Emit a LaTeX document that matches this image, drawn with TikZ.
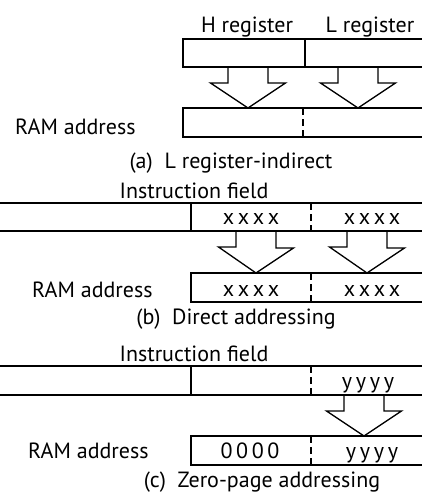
\documentclass[tikz,border=0pt]{standalone}
\usepackage{fontspec}
\setmainfont{PT Sans}
\usetikzlibrary{calc}

\tikzset{
    lbl/.style={font=\fontsize{22}{26}\selectfont, inner sep=0pt, anchor=base},
    fld/.style={line width=1.3pt},
    half/.style={line width=1.3pt, dash pattern=on 7pt off 4pt},
    blockarr/.style={line width=1.3pt, line join=miter},
}
% hollow down arrow: shaft top (#1), tip (#2)
\newcommand{\blockarrow}[2]{%
    \draw[blockarr] (#1) ++(-20,0) -- ++(0,16) -- ++(-17.5,0) -- (#2)
        -- ++(37.5,-25) -- ++(-17.5,0) -- ++(0,-16);
}

\begin{document}
\begin{tikzpicture}[x=1pt, y=-1pt]
    \clip (0,0) rectangle (422,493);

    % (a) L register-indirect
    \node[lbl] (hreg) at (247,32) {H register};
    \node[lbl] (lreg) at (370,32) {L register};
    \draw[fld] (430,39) -- (183,39) -- (183,67) -- (430,67);
    \draw[fld] (305,39) -- (305,67);
    \coordinate (ha) at (248,67);  \coordinate (hat) at (248,108);
    \coordinate (la) at (358,67);  \coordinate (lat) at (358,108);
    \blockarrow{ha}{hat}
    \blockarrow{la}{lat}
    \node[lbl, anchor=base west] (rama) at (15,134) {RAM address};
    \draw[fld] (430,108) -- (183,108) -- (183,137) -- (430,137);
    \draw[half] (303,108) -- (303,137);
    \node[lbl] (capa) at (231,168) {(a)\ \ L register-indirect};

    % (b) Direct addressing
    \node[lbl] (insb) at (194,198) {Instruction field};
    \draw[fld] (-5,203) -- (430,203);
    \draw[fld] (-5,231) -- (430,231);
    \draw[fld] (191,203) -- (191,231);
    \draw[half] (311,203) -- (311,231);
    \node[lbl] (xhb) at (251,224) {x\,x\,x\,x};
    \node[lbl] (xlb) at (372,224) {x\,x\,x\,x};
    \coordinate (hb) at (256,231);  \coordinate (hbt) at (256,273);
    \coordinate (lb) at (367,231);  \coordinate (lbt) at (367,273);
    \blockarrow{hb}{hbt}
    \blockarrow{lb}{lbt}
    \node[lbl, anchor=base west] (ramb) at (32,297) {RAM address};
    \draw[fld] (430,273) -- (191,273) -- (191,302) -- (430,302);
    \draw[half] (311,273) -- (311,302);
    \node[lbl] (xhr) at (251,296) {x\,x\,x\,x};
    \node[lbl] (xlr) at (372,296) {x\,x\,x\,x};
    \node[lbl] (capb) at (236,324) {(b)\ \ Direct addressing};

    % (c) Zero-page addressing
    \node[lbl] (insc) at (194,361) {Instruction field};
    \draw[fld] (-5,366) -- (430,366);
    \draw[fld] (-5,395) -- (430,395);
    \draw[fld] (191,366) -- (191,395);
    \draw[half] (311,366) -- (311,395);
    \node[lbl] (yc) at (368,388) {y\,y\,y\,y};
    \coordinate (lc) at (364,395);  \coordinate (lct) at (364,436);
    \blockarrow{lc}{lct}
    \node[lbl, anchor=base west] (ramc) at (28,458) {RAM address};
    \draw[fld] (430,436) -- (191,436) -- (191,465) -- (430,465);
    \draw[half] (311,436) -- (311,465);
    \node[lbl] (zr) at (250,458) {0\,0\,0\,0};
    \node[lbl] (yr) at (372,458) {y\,y\,y\,y};
    \node[lbl] (capc) at (262,487) {(c)\ \ Zero-page addressing};
\end{tikzpicture}
\end{document}
